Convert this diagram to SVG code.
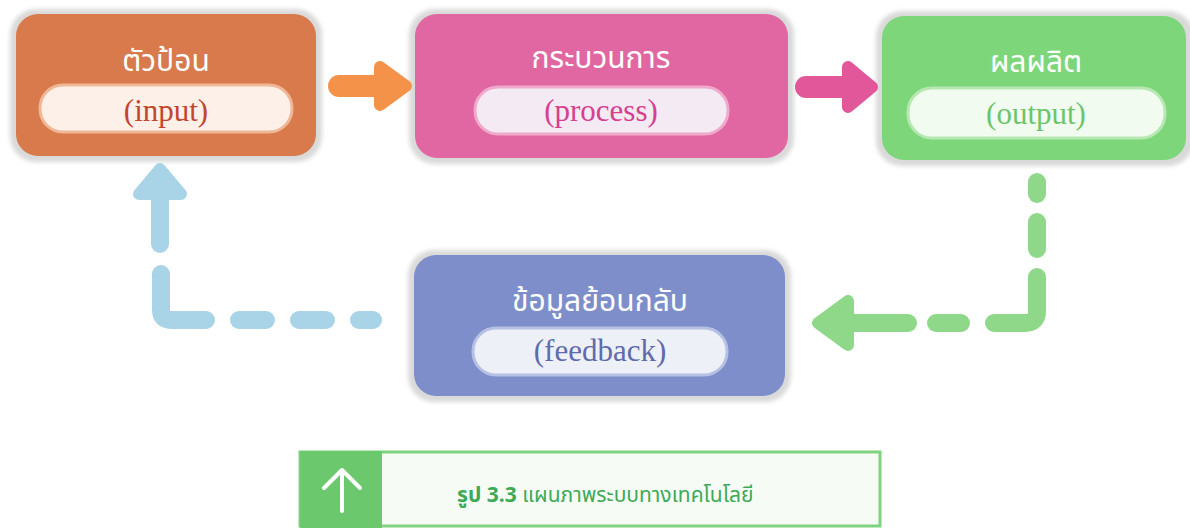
<svg xmlns="http://www.w3.org/2000/svg" width="1190" height="528" viewBox="0 0 1190 528">
<defs>
<filter id="blur" x="-10%" y="-10%" width="120%" height="120%"><feGaussianBlur stdDeviation="2"/></filter>
</defs>
<style>
.halo{fill:#d9d9d9;filter:url(#blur)}
.th{font-family:"Noto Sans Thai","Noto Sans","DejaVu Sans",sans-serif;font-size:30px;fill:#ffffff;text-anchor:middle}
.en{font-family:"Liberation Serif",serif;font-size:31px;text-anchor:middle}
.dash{fill:none;stroke-width:18;stroke-linecap:round;stroke-linejoin:round}
.head{stroke-width:12;stroke-linejoin:round}
</style>
<rect x="0" y="0" width="1190" height="528" fill="#ffffff"/>

<g id="node-input">
<rect class="halo" x="10" y="9" width="312" height="153" rx="26"/>
<rect x="16" y="14" width="300" height="142" rx="22" fill="#d87a4c"/>
<rect x="40" y="85" width="252" height="47" rx="23" fill="#fdf0e8" stroke="#f0b796" stroke-width="3"/>
<text class="th" x="166" y="71">ตัวป้อน</text>
<text class="en" x="166" y="121" fill="#c4452e">(input)</text>
</g>

<g id="node-process">
<rect class="halo" x="409" y="9" width="385" height="155" rx="26"/>
<rect x="415" y="14" width="373" height="144" rx="22" fill="#e067a2"/>
<rect x="475" y="87" width="253" height="47" rx="23" fill="#f3eaf3" stroke="#f0a9cb" stroke-width="3"/>
<text class="th" x="601" y="68">กระบวนการ</text>
<text class="en" x="601" y="121" fill="#d7408e">(process)</text>
</g>

<g id="node-output">
<rect class="halo" x="876" y="11" width="318" height="155" rx="26"/>
<rect x="882" y="16" width="304" height="144" rx="22" fill="#7dd67a"/>
<rect x="908" y="88" width="257" height="50" rx="24" fill="#f2fbef" stroke="#b8e8b2" stroke-width="3"/>
<text class="th" x="1036" y="72">ผลผลิต</text>
<text class="en" x="1036" y="124" fill="#6cc56a">(output)</text>
</g>

<g id="node-feedback">
<rect class="halo" x="408" y="250" width="383" height="152" rx="26"/>
<rect x="414" y="255" width="371" height="141" rx="22" fill="#7e8ecb"/>
<rect x="473" y="328" width="254" height="47" rx="23" fill="#eef0f8" stroke="#b6bfe4" stroke-width="3"/>
<text class="th" x="600" y="311">ข้อมูลย้อนกลับ</text>
<text class="en" x="600" y="361" fill="#5f6bab">(feedback)</text>
</g>

<g id="connectors">
<!-- input -> process -->
<line x1="339" y1="86" x2="392" y2="86" stroke="#f5924a" stroke-width="22" stroke-linecap="round"/>
<polygon class="head" points="380,67 406,86 380,105" fill="#f5924a" stroke="#f5924a"/>
<!-- process -> output -->
<line x1="806" y1="87" x2="858" y2="87" stroke="#e2579a" stroke-width="22" stroke-linecap="round"/>
<polygon class="head" points="848,67 872,87 848,107" fill="#e2579a" stroke="#e2579a"/>
<!-- output -> feedback (dashed green) -->
<g stroke="#8fd88a">
<path class="dash" d="M1037,182 V194"/>
<path class="dash" d="M1037,222 V249"/>
<path class="dash" d="M1037,277 V311 Q1037,323 1025,323 H994"/>
<path class="dash" d="M936,323 H961"/>
<path class="dash" d="M832,323 H908"/>
<polygon class="head" points="818,323 848,301 848,345" fill="#8fd88a"/>
</g>
<!-- feedback -> input (dashed blue) -->
<g stroke="#a9d3e6">
<path class="dash" d="M373,320 H359"/>
<path class="dash" d="M326,320 H299"/>
<path class="dash" d="M266,320 H239"/>
<path class="dash" d="M206,320 H171 Q161,320 161,310 V274"/>
<path class="dash" d="M160,244 V188"/>
<polygon class="head" points="160,169 139,194 181,194" fill="#a9d3e6"/>
</g>
</g>

<g id="caption">
<rect x="300" y="452" width="580" height="74" fill="#f6fcf5" stroke="#7fd37f" stroke-width="3"/>
<rect x="300" y="451" width="82" height="77" fill="#6cc86c"/>
<g stroke="#ffffff" stroke-width="4" stroke-linecap="round" stroke-linejoin="round" fill="none">
<line x1="342" y1="471" x2="342" y2="511"/>
<polyline points="324,488 342,470 360,488"/>
</g>
<text x="457" y="502" font-family="Noto Sans Thai, Noto Sans, DejaVu Sans, sans-serif" font-size="21" fill="#3daa58"><tspan font-weight="bold">รูป 3.3</tspan> แผนภาพระบบทางเทคโนโลยี</text>
</g>
</svg>
